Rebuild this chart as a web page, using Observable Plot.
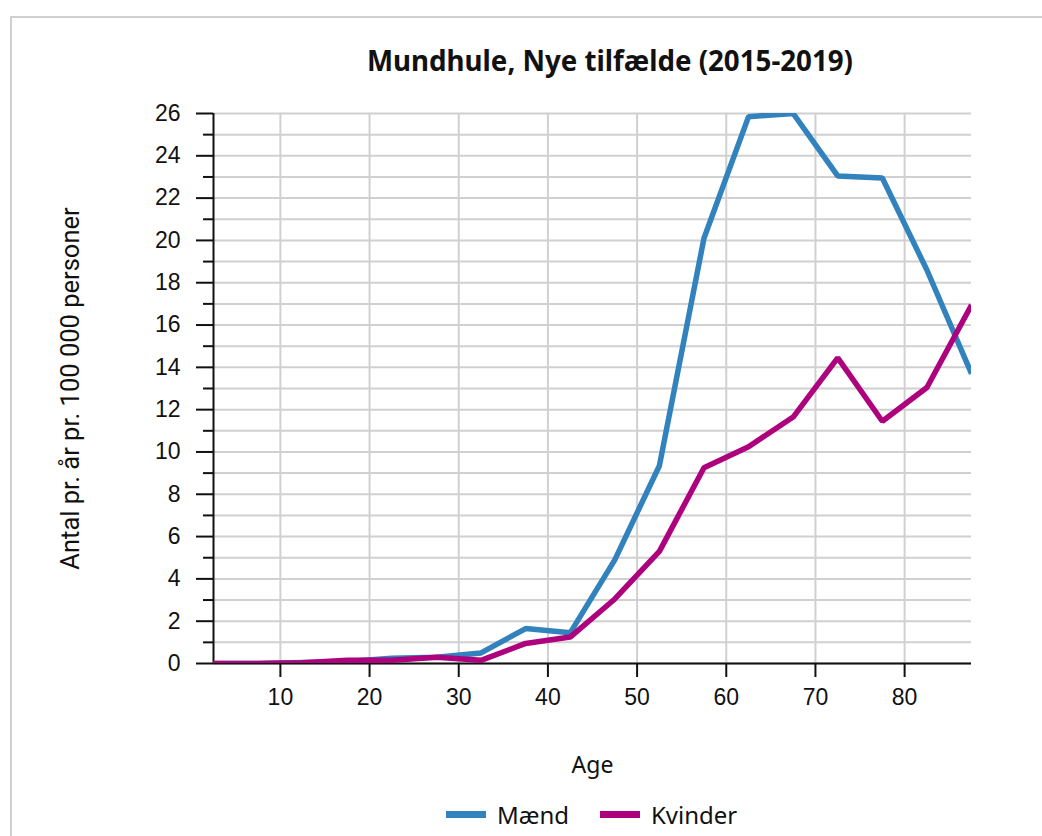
<!DOCTYPE html>
<html>
<head>
<meta charset="utf-8">
<script src="https://cdn.jsdelivr.net/npm/d3@7"></script>
<script src="https://cdn.jsdelivr.net/npm/@observablehq/plot@0.6"></script>
<style>
  html, body { margin:0; padding:0; background:#fff; }
  body { width:1042px; height:836px; overflow:hidden; position:relative; }
  #frame { position:absolute; left:10px; top:16px; width:1100px; height:900px; border:2px solid #d0d0d0; box-sizing:border-box; }
  #chart { position:absolute; left:0; top:0; }
  #title { position:absolute; left:0; width:1220px; top:41px; text-align:center; font-family:"Noto Sans"; font-weight:700; font-size:27.7px; color:#111; }
  .leg { position:absolute; top:798px; font-family:"Noto Sans"; font-size:24px; color:#111; display:flex; align-items:center; }
  .sw { width:40px; height:7px; margin-right:11px; }
</style>
</head>
<body>
<div id="frame"></div>
<div id="chart"></div>
<div id="title">Mundhule, Nye tilfælde (2015-2019)</div>
<div class="leg" style="left:446px"><span class="sw" style="background:#3182bd"></span>Mænd</div>
<div class="leg" style="left:600px"><span class="sw" style="background:#ae017e"></span>Kvinder</div>
<script>
const ages = [2.5, 7.5, 12.5, 17.5, 22.5, 27.5, 32.5, 37.5, 42.5, 47.5, 52.5, 57.5, 62.5, 67.5, 72.5, 77.5, 82.5, 87.5];
const maend = [0, 0, 0.05, 0.1, 0.25, 0.3, 0.5, 1.65, 1.45, 4.9, 9.35, 20.1, 25.85, 26.0, 23.05, 22.95, 18.6, 13.7];
const kvinder = [0, 0, 0.03, 0.15, 0.15, 0.3, 0.15, 0.95, 1.25, 3.05, 5.3, 9.25, 10.25, 11.65, 14.45, 11.45, 13.05, 16.95];
const seriesNames = ["Mænd", "Kvinder"];
const seriesColors = ["#3182bd", "#ae017e"];
const xTicks = [10, 20, 30, 40, 50, 60, 70, 80];
const yMajor = d3.range(0, 27, 2);
const yMinor = d3.range(1, 26, 2);
const yGrid = d3.range(0, 27, 1);
const xLabel = "Age";
const yLabel = "Antal pr. år pr. 100 000 personer";

const data = [
  ...ages.map((a, i) => ({age: a, value: maend[i], s: seriesNames[0]})),
  ...ages.map((a, i) => ({age: a, value: kvinder[i], s: seriesNames[1]}))
];

const plot = Plot.plot({
  width: 1042,
  height: 836,
  marginLeft: 213,
  marginRight: 71,
  marginTop: 113,
  marginBottom: 173,
  style: {fontFamily: "'Liberation Sans', Arial, sans-serif", fontSize: "23px", color: "#111", background: "transparent"},
  x: {domain: [2.5, 87.5], axis: null},
  y: {domain: [0, 26], axis: null},
  color: {domain: seriesNames, range: seriesColors},
  marks: [
    Plot.gridY(yGrid, {stroke: "#d0d0d0", strokeOpacity: 1, strokeWidth: 2}),
    Plot.gridX(xTicks, {stroke: "#d0d0d0", strokeOpacity: 1, strokeWidth: 2}),
    Plot.axisY(yMajor, {tickSize: 17, tickPadding: 16, stroke: "#111", strokeWidth: 2, fill: "#111", fontSize: 23, label: null}),
    Plot.axisY(yMinor, {tickSize: 10, text: null, stroke: "#111", strokeWidth: 2, label: null}),
    Plot.axisX(xTicks, {tickSize: 14, tickPadding: 11, stroke: "#111", strokeWidth: 2, fill: "#111", fontSize: 23, label: null}),
    Plot.ruleX([2.5], {stroke: "#111", strokeWidth: 2}),
    Plot.ruleY([0], {stroke: "#111", strokeWidth: 2, x1: 2.5, x2: 87.5}),
    Plot.line(data, {x: "age", y: "value", z: "s", stroke: "s", strokeWidth: 5.5, strokeLinejoin: "miter", strokeLinecap: "butt", clip: true}),
    Plot.text([xLabel], {frameAnchor: "bottom", dy: 109, fontFamily: "Noto Sans", fontSize: 23, fill: "#111"}),
    Plot.text([yLabel], {frameAnchor: "left", dx: -143, rotate: -90, textAnchor: "middle", fontFamily: "Roboto", fontSize: 25.5, fill: "#111"})
  ]
});
document.getElementById("chart").appendChild(plot);
</script>
</body>
</html>
